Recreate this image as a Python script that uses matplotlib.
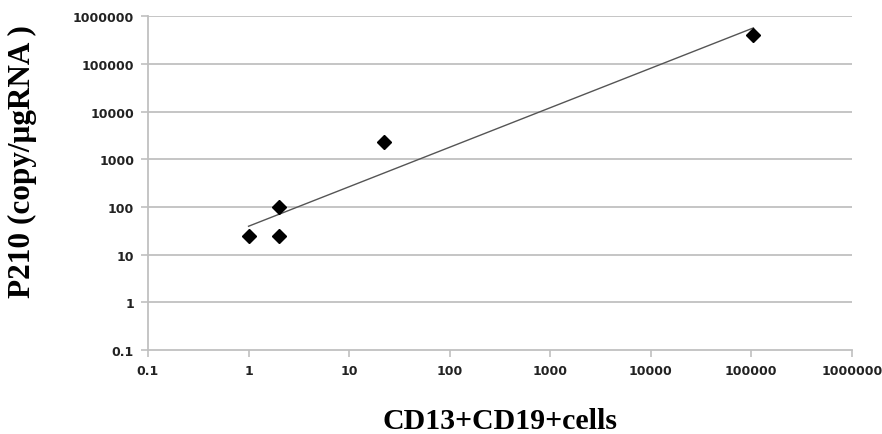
import numpy as np
import matplotlib.pyplot as plt

# data
cells = [1, 2, 2, 22, 105000]
p210 = [25, 100, 25, 2300, 400000]

x_ticks = [0.1, 1, 10, 100, 1000, 10000, 100000, 1000000]
y_ticks = [0.1, 1, 10, 100, 1000, 10000, 100000, 1000000]
tick_labels = ["0.1", "1", "10", "100", "1000", "10000", "100000", "1000000"]

# power trendline (fit on log-log)
lx = np.log10(cells)
ly = np.log10(p210)
slope, icpt = np.polyfit(lx, ly, 1)
fit_x = np.array([min(cells), max(cells)])
fit_y = 10 ** (icpt + slope * np.log10(fit_x))

fig = plt.figure(figsize=(8.82, 4.35), dpi=100)
ax = fig.add_axes([0.1678, 0.193, 0.798, 0.767])

grid_col = "#c0c0c0"
ax.set_xscale("log")
ax.set_yscale("log")
ax.set_xlim(0.1, 1000000)
ax.set_ylim(0.1, 1000000)

for yv in y_ticks[1:]:
    ax.axhline(yv, color=grid_col, lw=1.3, zorder=1)

ax.plot(fit_x, fit_y, color="#555555", lw=1.0, zorder=2)
ax.plot(cells, p210, linestyle="none", marker="D", markersize=7.5,
        color="black", zorder=3)

ax.set_xticks(x_ticks)
ax.set_xticklabels(tick_labels)
ax.set_yticks(y_ticks)
ax.set_yticklabels(tick_labels)
ax.minorticks_off()
ax.tick_params(axis="both", which="major", length=5, width=1.2, color=grid_col,
               labelsize=9, pad=5)
for lab in ax.get_xticklabels() + ax.get_yticklabels():
    lab.set_fontweight("bold")
    lab.set_color("#222222")

for side in ["top", "right"]:
    ax.spines[side].set_visible(False)
for side in ["left", "bottom"]:
    ax.spines[side].set_color(grid_col)
    ax.spines[side].set_linewidth(1.3)

ax.set_xlabel("CD13+CD19+cells", fontfamily="Liberation Serif", fontweight="bold",
              fontsize=21.5, labelpad=22)
ax.set_ylabel("P210 (copy/\u03bcgRNA )", fontfamily="Liberation Serif",
              fontweight="bold", fontsize=22.5)
ax.yaxis.set_label_coords(-0.158, 0.567)

fig.savefig("out.png", dpi=100)
